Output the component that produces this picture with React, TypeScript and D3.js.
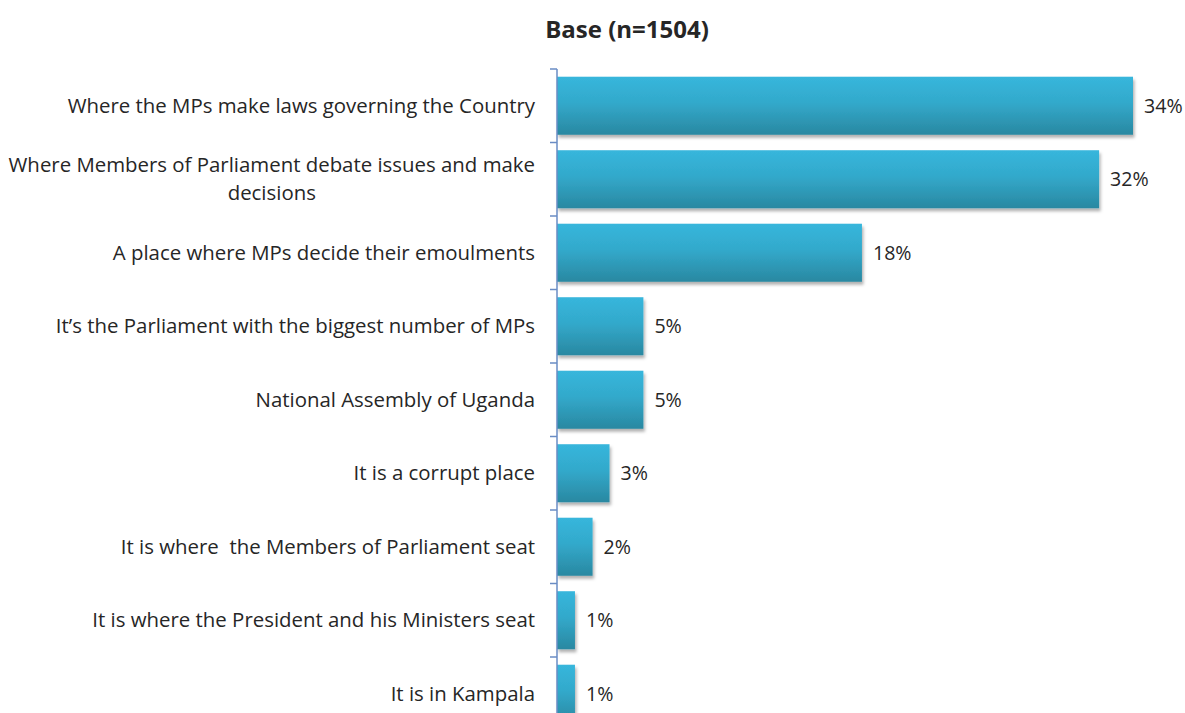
import React, { useEffect, useRef } from "react";
import * as d3 from "d3";

const title = "Base (n=1504)";
const categories = [
  "Where the MPs make laws governing the Country",
  "Where Members of Parliament debate issues and make decisions",
  "A place where MPs decide their emoulments",
  "It\u2019s the Parliament with the biggest number of MPs",
  "National Assembly of Uganda",
  "It is a corrupt place",
  "It is where  the Members of Parliament seat",
  "It is where the President and his Ministers seat",
  "It is in Kampala",
];
const values = [34, 32, 18, 5.1, 5.1, 3.1, 2.1, 1.06, 1.06];

const W = 1185;
const H = 713;
const FONT = "'Open Sans', sans-serif";

export default function App() {
  const ref = useRef<SVGSVGElement>(null);

  useEffect(() => {
    const svg = d3.select(ref.current);
    svg.selectAll("*").remove();

    const axisX = 557;
    const x = d3.scaleLinear().domain([0, 34]).range([axisX, 1133]);
    const y = d3
      .scaleBand<string>()
      .domain(categories)
      .range([69, 69 + categories.length * 73.5])
      .paddingInner(0.21)
      .paddingOuter(0.105);

    const defs = svg.append("defs");
    const grad = defs
      .append("linearGradient")
      .attr("id", "barGrad")
      .attr("x1", 0)
      .attr("y1", 0)
      .attr("x2", 0)
      .attr("y2", 1);
    grad.append("stop").attr("offset", "0%").attr("stop-color", "#37B6DC");
    grad.append("stop").attr("offset", "45%").attr("stop-color", "#32A9CB");
    grad.append("stop").attr("offset", "100%").attr("stop-color", "#2A88A1");

    const filt = defs
      .append("filter")
      .attr("id", "shadow")
      .attr("x", "-10%")
      .attr("y", "-10%")
      .attr("width", "130%")
      .attr("height", "140%");
    filt
      .append("feDropShadow")
      .attr("dx", 1.5)
      .attr("dy", 3)
      .attr("stdDeviation", 1.8)
      .attr("flood-color", "#000")
      .attr("flood-opacity", 0.3);

    // title
    svg
      .append("text")
      .attr("x", 627)
      .attr("y", 30)
      .attr("dy", "0.35em")
      .attr("text-anchor", "middle")
      .attr("font-family", FONT)
      .attr("font-weight", "bold")
      .attr("font-size", 24)
      .attr("fill", "#262626")
      .text(title);

    // bars
    svg
      .append("g")
      .selectAll("rect")
      .data(categories)
      .join("rect")
      .attr("x", axisX)
      .attr("y", (d) => y(d)!)
      .attr("width", (_, i) => x(values[i]) - axisX)
      .attr("height", y.bandwidth())
      .attr("fill", "url(#barGrad)")
      .attr("filter", "url(#shadow)");

    // axis
    const step = y.step();
    const tickYs = categories.map((_, i) => y.range()[0] + i * step);
    tickYs.push(y.range()[0] + categories.length * step);
    const axisG = svg.append("g").attr("stroke", "#6A8CC4").attr("stroke-width", 1.5);
    axisG
      .append("line")
      .attr("x1", axisX)
      .attr("x2", axisX)
      .attr("y1", tickYs[0])
      .attr("y2", H);
    axisG
      .selectAll("line.tick")
      .data(tickYs)
      .join("line")
      .attr("class", "tick")
      .attr("x1", axisX - 7)
      .attr("x2", axisX)
      .attr("y1", (d) => d)
      .attr("y2", (d) => d);

    // value labels
    svg
      .append("g")
      .selectAll("text")
      .data(categories)
      .join("text")
      .attr("x", (_, i) => x(values[i]) + 11)
      .attr("y", (d) => y(d)! + y.bandwidth() / 2)
      .attr("dy", "0.35em")
      .attr("font-family", FONT)
      .attr("font-size", 19.6)
      .attr("fill", "#262626")
      .text((_, i) => `${Math.round(values[i])}%`);

    // category labels with wrapping
    const labelRight = 535;
    const maxW = 530;
    const lineH = 28;
    const lg = svg.append("g");
    categories.forEach((cat) => {
      const t = lg
        .append("text")
        .attr("font-family", FONT)
        .attr("font-size", 20.4)
        .attr("fill", "#262626")
        .style("white-space", "pre");
      const words = cat.split(" ");
      const lines: string[] = [];
      let cur = "";
      const probe = t.append("tspan");
      words.forEach((w) => {
        const test = cur !== "" ? cur + " " + w : w;
        probe.text(test);
        if ((probe.node() as SVGTSpanElement).getComputedTextLength() > maxW && cur) {
          lines.push(cur);
          cur = w;
        } else {
          cur = test;
        }
      });
      lines.push(cur);
      probe.remove();
      const cy = y(cat)! + y.bandwidth() / 2;
      if (lines.length === 1) {
        t.attr("x", labelRight)
          .attr("y", cy)
          .attr("dy", "0.35em")
          .attr("text-anchor", "end")
          .text(lines[0]);
      } else {
        let widest = 0;
        lines.forEach((l) => {
          const sp = t.append("tspan").text(l);
          widest = Math.max(widest, (sp.node() as SVGTSpanElement).getComputedTextLength());
          sp.remove();
        });
        const cx = labelRight - widest / 2;
        t.attr("text-anchor", "middle");
        lines.forEach((l, k) => {
          t.append("tspan")
            .attr("x", cx)
            .attr("y", cy + (k - (lines.length - 1) / 2) * lineH)
            .attr("dy", "0.35em")
            .text(l);
        });
      }
    });
  }, []);

  return (
    <svg
      ref={ref}
      width={W}
      height={H}
      style={{ position: "absolute", left: 0, top: 0, background: "#fff" }}
    />
  );
}
